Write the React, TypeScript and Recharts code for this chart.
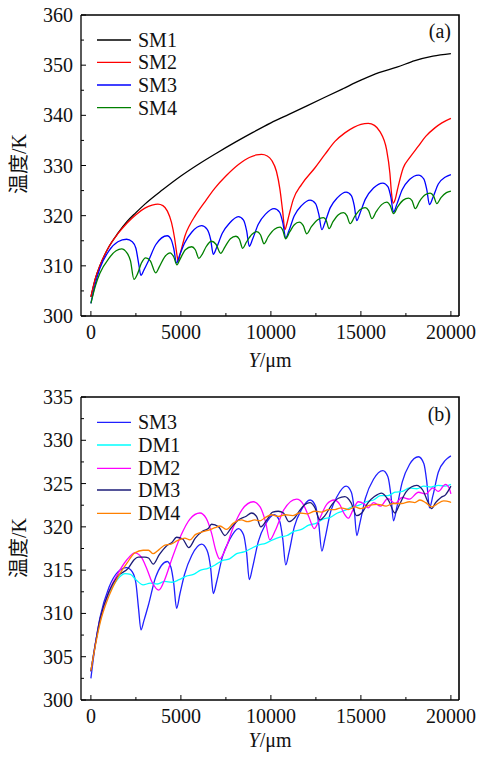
import React from 'react';
import { LineChart, Line, XAxis, YAxis } from 'recharts';

const FONT = "'Liberation Serif', 'Noto Sans CJK SC', serif";

// ---- tick values ----
const xTicks = [0, 2500, 5000, 7500, 10000, 12500, 15000, 17500, 20000];
const yTicksA = [300, 305, 310, 315, 320, 325, 330, 335, 340, 345, 350, 355, 360];
const yTicksB = [300, 302.5, 305, 307.5, 310, 312.5, 315, 317.5, 320, 322.5, 325, 327.5, 330, 332.5, 335];

// ---- panel (a) series ----
const sm1X = [0, 250, 500, 1000, 1500, 2000, 2500, 3000, 4000, 5000, 6000, 7000, 8000, 9000, 10000, 11000, 12000, 13000, 14000, 15000, 16000, 17000, 18000, 19000, 20000];
const sm1Y = [303.8, 307.5, 310, 313.8, 316.5, 318.8, 320.6, 322.3, 325.2, 327.9, 330.3, 332.5, 334.6, 336.6, 338.5, 340.2, 341.9, 343.6, 345.3, 347.0, 348.5, 349.6, 350.9, 351.8, 352.3];

const sm2X = [0, 250, 500, 1000, 1500, 2000, 2500, 3000, 3400, 3720, 4000, 4250, 4480, 4650, 4780, 4850, 4950, 5100, 5220, 5500, 5780, 6300, 6890, 7500, 8200, 8800, 9200, 9480, 9800, 10050, 10310, 10500, 10650, 10780, 10880, 11000, 11240, 11700, 12440, 13000, 13560, 14110, 14600, 15000, 15410, 15750, 16050, 16430, 16610, 16700, 16800, 16900, 17050, 17350, 17700, 18180, 18600, 19110, 19500, 20000];
const sm2Y = [303.8, 307.5, 310, 313.8, 316.4, 318.5, 320.2, 321.5, 322.1, 322.3, 322.0, 320.9, 318.6, 315.5, 312.2, 310.9, 312.3, 314.3, 315.9, 318.2, 319.9, 322.6, 325.5, 327.9, 330.2, 331.6, 332.1, 332.2, 331.9, 331.0, 328.8, 325.3, 321.0, 317.2, 318.3, 320.0, 323.2, 326.2, 329.5, 332.2, 334.8, 336.5, 337.6, 338.2, 338.4, 338.0, 336.8, 333.1, 328.5, 324.5, 322.5, 323.2, 325.5, 329.5, 331.5, 333.8, 335.8, 337.5, 338.5, 339.4];

const sm3X = [0, 250, 500, 1000, 1500, 1980, 2300, 2500, 2650, 2780, 2950, 3200, 3600, 4245, 4450, 4600, 4760, 4950, 5200, 5600, 6150, 6450, 6650, 6800, 6980, 7300, 7700, 8190, 8480, 8650, 8800, 8980, 9300, 9700, 10180, 10480, 10660, 10825, 11000, 11300, 11700, 12180, 12480, 12660, 12830, 13000, 13300, 13700, 14180, 14470, 14630, 14770, 14950, 15250, 15700, 16220, 16500, 16670, 16810, 17000, 17300, 17700, 18200, 18500, 18660, 18810, 19000, 19300, 19700, 20000];
const sm3Y = [302.5, 306.5, 309.5, 313, 314.8, 315.3, 314.8, 313.5, 310.5, 308.1, 309.2, 311.0, 314.2, 316.0, 315.3, 313.5, 310.6, 312.3, 314.5, 316.7, 318.0, 317.3, 315.3, 312.3, 313.6, 316.5, 318.5, 319.8, 319.1, 317.0, 313.9, 315.3, 318.3, 320.3, 321.4, 320.7, 318.6, 315.6, 317.0, 320.0, 322.0, 323.1, 322.4, 320.3, 317.2, 318.6, 321.6, 323.6, 324.7, 324.0, 322.0, 319.0, 320.5, 323.3, 325.5, 326.5, 325.8, 323.6, 320.7, 322.3, 325.2, 327.2, 328.1, 327.3, 325.2, 322.2, 323.6, 326.3, 327.7, 328.2];

const sm4X = [0, 250, 500, 1000, 1400, 1705, 2000, 2200, 2390, 2600, 2800, 3050, 3300, 3600, 3800, 4100, 4400, 4600, 4780, 4950, 5250, 5600, 5800, 6000, 6200, 6400, 6700, 6950, 7210, 7450, 7750, 8060, 8250, 8430, 8650, 8950, 9210, 9420, 9620, 9850, 10200, 10510, 10670, 10810, 11050, 11300, 11580, 11800, 11990, 12250, 12600, 12920, 13080, 13230, 13450, 13750, 14030, 14220, 14400, 14650, 14950, 15240, 15430, 15610, 15850, 16150, 16440, 16630, 16810, 17050, 17350, 17650, 17840, 18020, 18250, 18550, 18850, 19040, 19220, 19450, 19750, 20000];
const sm4Y = [302.5, 306, 308.5, 311.5, 313, 313.4, 312.6, 311, 307.3, 308.5, 310.5, 311.6, 311.0, 308.6, 309.8, 311.8, 312.6, 311.8, 310.2, 311.3, 313.2, 313.8, 313.2, 311.5, 312.4, 313.8, 314.9, 314.3, 312.5, 313.8, 315.4, 315.9, 315.3, 313.5, 314.8, 316.3, 316.8, 316.2, 314.4, 315.8, 317.3, 317.7, 317.0, 315.4, 316.8, 318.2, 318.7, 318.0, 316.4, 317.8, 319.2, 319.6, 319.0, 317.4, 318.8, 320.2, 320.6, 320.0, 318.4, 319.8, 321.2, 321.6, 321.0, 319.4, 320.8, 322.2, 322.7, 322.0, 320.4, 321.8, 323.1, 323.5, 323.0, 321.4, 322.8, 324.1, 324.5, 323.9, 322.4, 323.6, 324.6, 324.9];

// ---- panel (b) series (SM3 reused) ----
const dm1X = [0, 250, 500, 1000, 1500, 1900, 2200, 2500, 2900, 3300, 3700, 4100, 4500, 4900, 5300, 5700, 6100, 6500, 6900, 7300, 7700, 8100, 8500, 8900, 9300, 9700, 10100, 10500, 10900, 11300, 11700, 12100, 12500, 12900, 13300, 13700, 14100, 14500, 14900, 15300, 15700, 16100, 16500, 16900, 17300, 17700, 18100, 18500, 18900, 19300, 19700, 20000];
const dm1Y = [303.3, 306.5, 309, 312.3, 314, 314.6, 314.5, 313.9, 313.3, 313.5, 313.4, 313.7, 313.6, 313.9, 314.3, 314.5, 315, 315.2, 315.6, 316.1, 316.3, 316.9, 317.1, 317.5, 317.9, 318.1, 318.5, 318.8, 319.0, 319.5, 319.7, 320.2, 320.4, 320.9, 321.1, 321.6, 321.9, 322.3, 322.5, 322.9, 323.1, 323.6, 323.6, 324.0, 324.1, 324.5, 324.4, 324.7, 324.6, 324.8, 324.7, 324.9];

const dm2X = [0, 250, 500, 1000, 1500, 2000, 2440, 2800, 3100, 3400, 3780, 4100, 4500, 5000, 5500, 6060, 6400, 6700, 6950, 7150, 7450, 7900, 8400, 9020, 9400, 9700, 9940, 10250, 10700, 11430, 11800, 12100, 12410, 12700, 13100, 13520, 13850, 14050, 14300, 14550, 14850, 15150, 15410, 15700, 16100, 16500, 16900, 17300, 17700, 18200, 18600, 19000, 19300, 19700, 19900, 20000];
const dm2Y = [303.3, 306.5, 309.2, 312.5, 314.6, 316.2, 317.0, 316.5, 315.2, 313.6, 312.7, 313.9, 316.3, 319.0, 320.9, 321.6, 321.0, 319.3, 317.2, 316.3, 317.3, 319.9, 322.0, 322.9, 322.3, 320.6, 318.5, 319.6, 321.9, 323.2, 322.6, 321.2, 319.8, 320.9, 322.6, 323.1, 322.5, 321.6, 321.0, 321.9, 322.9, 322.7, 322.2, 322.8, 322.4, 323.3, 322.7, 323.4, 323.2, 324.0, 323.8, 324.5, 324.1, 324.9, 324.5, 323.8];

const dm3X = [0, 250, 500, 1000, 1500, 2070, 2400, 2630, 3000, 3200, 3460, 3800, 4200, 4500, 4760, 5100, 5440, 5800, 6200, 6520, 6700, 7100, 7440, 7800, 8200, 8600, 8930, 9200, 9440, 9800, 10100, 10410, 10700, 11000, 11300, 11600, 11900, 12170, 12450, 12720, 13000, 13400, 13750, 14110, 14450, 14760, 15050, 15400, 15750, 16150, 16550, 16890, 17150, 17500, 17800, 18090, 18450, 18700, 18930, 19150, 19450, 19700, 20000];
const dm3Y = [303.3, 306.5, 309.3, 312.5, 314.3, 315.2, 316.2, 316.5, 316.5, 316.4, 315.7, 316.8, 317.8, 318.2, 318.8, 318.6, 317.6, 318.7, 319.5, 319.8, 320.3, 320.0, 319.0, 319.9, 320.8, 321.2, 321.6, 321.2, 320.0, 320.9, 321.7, 321.8, 321.6, 320.6, 321.0, 321.9, 322.6, 322.8, 322.2, 320.8, 321.3, 322.6, 323.3, 323.5, 322.8, 321.3, 321.6, 322.8, 323.5, 323.9, 323.0, 321.6, 322.6, 324.0, 324.6, 324.8, 324.2, 323.0, 322.1, 322.8, 323.4, 323.7, 324.7];

const dm4X = [0, 250, 500, 1000, 1500, 2000, 2440, 2900, 3200, 3460, 3800, 4110, 4450, 4800, 5220, 5500, 5800, 6150, 6500, 6890, 7170, 7540, 7900, 8370, 8700, 9100, 9400, 9700, 10040, 10400, 10800, 11200, 11600, 12000, 12440, 12800, 13200, 13560, 13900, 14300, 14670, 15000, 15500, 15960, 16400, 16800, 17260, 17700, 18000, 18280, 18600, 18930, 19200, 19600, 19940, 20000];
const dm4Y = [303.4, 306.3, 308.8, 312.0, 314.2, 315.8, 317.0, 317.3, 317.3, 316.9, 317.4, 317.9, 318.0, 318.4, 318.7, 318.5, 319.1, 319.4, 319.6, 319.9, 320.1, 319.7, 320.4, 320.8, 320.6, 320.8, 320.7, 321.1, 321.4, 321.2, 321.4, 321.3, 321.6, 321.5, 321.8, 321.7, 322.0, 322.0, 322.2, 322.0, 322.3, 322.1, 322.5, 322.6, 322.4, 322.7, 322.7, 322.9, 322.8, 323.1, 322.8, 322.3, 322.6, 323.0, 322.9, 322.8];

const pts = (xs: number[], ys: number[]) => xs.map((x, i) => ({ x, y: ys[i] }));

const seriesA = [
  { name: 'SM1', color: '#000000', data: pts(sm1X, sm1Y) },
  { name: 'SM2', color: '#ff0000', data: pts(sm2X, sm2Y) },
  { name: 'SM3', color: '#0000ff', data: pts(sm3X, sm3Y) },
  { name: 'SM4', color: '#008000', data: pts(sm4X, sm4Y) },
];
const seriesB = [
  { name: 'SM3', color: '#2020ff', data: pts(sm3X, sm3Y) },
  { name: 'DM1', color: '#00ffff', data: pts(dm1X, dm1Y) },
  { name: 'DM2', color: '#ff00ff', data: pts(dm2X, dm2Y) },
  { name: 'DM3', color: '#1c1c78', data: pts(dm3X, dm3Y) },
  { name: 'DM4', color: '#ff8000', data: pts(dm4X, dm4Y) },
];

const XDOMAIN: [number, number] = [-550, 20450];
const TEXT_STYLE = { fontFamily: FONT, fontSize: 20 };
const AXIS_LINE = { stroke: '#000', strokeWidth: 1.3 };

// chart layout (pixels)
const CHART_W = 478;
const PLOT_LEFT = 81;
const PLOT_RIGHT_GAP = 19;
const PANEL_A = { h: 380, top: 15, xAxisH: 64 };
const PANEL_B = { h: 378, top: 17, xAxisH: 58 };

const XTick = (props: any) => {
  const { x, y, payload } = props;
  const major = payload.value % 5000 === 0;
  return (
    <g>
      <line x1={x} x2={x} y1={y} y2={y - (major ? 5 : 3)} stroke="#000" strokeWidth={1} />
      {major && (
        <text x={x} y={y + 23} textAnchor="middle" style={TEXT_STYLE} fill="#111">
          {payload.value}
        </text>
      )}
    </g>
  );
};

const makeYTick = (step: number) => (props: any) => {
  const { x, y, payload } = props;
  const major = Math.abs(payload.value / step - Math.round(payload.value / step)) < 1e-6;
  return (
    <g>
      <line x1={x} x2={x + (major ? 5 : 3)} y1={y} y2={y} stroke="#000" strokeWidth={1} />
      {major && (
        <text x={x - 8} y={y + 7} textAnchor="end" style={TEXT_STYLE} fill="#111">
          {payload.value}
        </text>
      )}
    </g>
  );
};
const YTickA = makeYTick(10);
const YTickB = makeYTick(5);

function Panel(props: { series: any[]; layout: { h: number; top: number; xAxisH: number }; yDomain: [number, number]; yTicks: number[]; YTick: any }) {
  const { series, layout, yDomain, yTicks, YTick } = props;
  return (
    <LineChart width={CHART_W} height={layout.h} margin={{ top: layout.top, right: PLOT_RIGHT_GAP, left: 0, bottom: 0 }}>
      <XAxis
        dataKey="x"
        type="number"
        domain={XDOMAIN}
        allowDataOverflow
        ticks={xTicks}
        interval={0}
        height={layout.xAxisH}
        tickSize={0}
        tickMargin={0}
        tickLine={false}
        tick={<XTick />}
        axisLine={AXIS_LINE}
      />
      <YAxis
        type="number"
        domain={yDomain}
        allowDataOverflow
        ticks={yTicks}
        interval={0}
        width={PLOT_LEFT}
        tickSize={0}
        tickMargin={0}
        tickLine={false}
        tick={<YTick />}
        axisLine={AXIS_LINE}
      />
      {series.map((s) => (
        <Line
          key={s.name}
          data={s.data}
          dataKey="y"
          name={s.name}
          type="monotone"
          stroke={s.color}
          strokeWidth={1.3}
          dot={false}
          activeDot={false}
          isAnimationActive={false}
        />
      ))}
    </LineChart>
  );
}

const legendRowsA = [40, 62.3, 85, 107.7];
const legendRowsB = [422.3, 445, 468.3, 490, 513.3];

const plotRight = CHART_W - PLOT_RIGHT_GAP;
const topA = PANEL_A.top;
const bottomA = PANEL_A.h - PANEL_A.xAxisH;
const topB = PANEL_A.h + PANEL_B.top;
const bottomB = PANEL_A.h + PANEL_B.h - PANEL_B.xAxisH;

export default function App() {
  return (
    <div style={{ position: 'absolute', left: 0, top: 0, width: 478, height: 758, overflow: 'hidden', background: '#fff' }}>
      <Panel series={seriesA} layout={PANEL_A} yDomain={[300, 360]} yTicks={yTicksA} YTick={YTickA} />
      <Panel series={seriesB} layout={PANEL_B} yDomain={[300, 335]} yTicks={yTicksB} YTick={YTickB} />
      <svg width={478} height={758} style={{ position: 'absolute', left: 0, top: 0, pointerEvents: 'none' }}>
        <path
          d={`M${PLOT_LEFT},${topA}H${plotRight}V${bottomA} M${PLOT_LEFT},${topB}H${plotRight}V${bottomB}`}
          fill="none"
          stroke="#000000"
          strokeWidth={1.6}
        />
        <g style={TEXT_STYLE} fill="#111">
          {seriesA.map((s, i) => (
            <g key={'la' + s.name}>
              <line x1={97} x2={131} y1={legendRowsA[i]} y2={legendRowsA[i]} stroke={s.color} strokeWidth={1.3} />
              <text x={138} y={legendRowsA[i] + 7}>{s.name}</text>
            </g>
          ))}
          {seriesB.map((s, i) => (
            <g key={'lb' + s.name}>
              <line x1={97} x2={131} y1={legendRowsB[i]} y2={legendRowsB[i]} stroke={s.color} strokeWidth={1.3} />
              <text x={138} y={legendRowsB[i] + 7}>{s.name}</text>
            </g>
          ))}
          <text x={451} y={38} textAnchor="end">(a)</text>
          <text x={451} y={421} textAnchor="end">(b)</text>
          <text x={270} y={367} textAnchor="middle">
            <tspan fontStyle="italic">Y</tspan>/μm
          </text>
          <text x={270} y={747} textAnchor="middle">
            <tspan fontStyle="italic">Y</tspan>/μm
          </text>
          <text x={26} y={164} textAnchor="middle" transform="rotate(-90 26 164)">温度/K</text>
          <text x={26} y={548} textAnchor="middle" transform="rotate(-90 26 548)">温度/K</text>
        </g>
      </svg>
    </div>
  );
}
